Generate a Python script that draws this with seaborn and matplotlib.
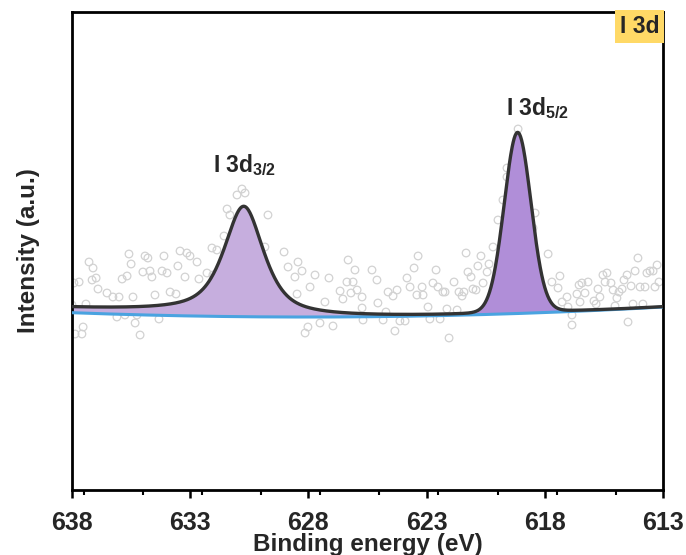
import numpy as np
import pandas as pd
import matplotlib
matplotlib.use("Agg")
import matplotlib.pyplot as plt
from matplotlib.ticker import MultipleLocator, FixedLocator
import seaborn as sns

sns.set_theme(style="white")
plt.rcParams['font.family'] = ['Liberation Sans', 'DejaVu Sans']
plt.rcParams['font.weight'] = 'bold'
plt.rcParams['mathtext.fontset'] = 'custom'
plt.rcParams['mathtext.rm'] = 'Liberation Sans:bold'
plt.rcParams['mathtext.bf'] = 'Liberation Sans:bold'
plt.rcParams['mathtext.it'] = 'Liberation Sans:bold'

# ---- raw spectrum (binding energy eV, intensity a.u.) ----
raw_energy = [
    638.00, 637.92, 637.87, 637.70, 637.58, 637.53, 637.41, 637.28, 637.15, 637.11,
    636.98, 636.90, 636.52, 636.27, 636.10, 636.01, 635.88, 635.76, 635.67, 635.59,
    635.50, 635.42, 635.33, 635.25, 635.12, 635.00, 634.91, 634.79, 634.70, 634.62,
    634.49, 634.32, 634.19, 634.11, 633.98, 633.85, 633.60, 633.52, 633.43, 633.22,
    633.14, 633.01, 632.71, 632.63, 632.29, 632.08, 631.87, 632.04, 631.57, 631.44,
    631.32, 631.02, 630.81, 630.68, 629.84, 629.71, 629.03, 628.86, 628.57, 628.48,
    628.44, 628.27, 628.14, 628.02, 627.93, 627.72, 627.51, 627.30, 627.13, 626.96,
    626.66, 626.54, 626.37, 626.32, 626.20, 626.11, 626.03, 625.94, 625.73, 625.73,
    625.69, 625.31, 625.10, 625.06, 624.84, 624.72, 624.63, 624.42, 624.34, 624.25,
    624.13, 623.91, 623.83, 623.70, 623.53, 623.41, 623.36, 623.19, 623.15, 622.94,
    622.86, 622.73, 622.60, 622.52, 622.43, 622.31, 622.22, 622.14, 622.05, 621.84,
    621.71, 621.63, 621.50, 621.42, 621.33, 621.25, 621.12, 621.04, 620.91, 620.83,
    620.70, 620.61, 620.44, 620.36, 620.19, 619.98, 619.77, 619.60, 619.60, 619.13,
    618.50, 618.41, 617.86, 617.70, 617.44, 617.36, 617.27, 617.06, 617.02, 616.85,
    616.85, 616.64, 616.55, 616.51, 616.43, 616.30, 616.17, 615.92, 615.83, 615.75,
    615.67, 615.54, 615.45, 615.37, 615.20, 615.11, 615.03, 614.95, 614.86, 614.73,
    614.65, 614.52, 614.48, 614.35, 614.27, 614.18, 614.06, 613.97, 613.85, 613.76,
    613.68, 613.55, 613.42, 613.34, 613.25, 613.17,
]
raw_intensity = [
    185, 207, 156, 208, 156, 163, 186, 228, 210, 222,
    212, 201, 197, 193, 173, 193, 211, 175, 214, 236,
    226, 193, 167, 175, 155, 218, 234, 232, 219, 213,
    195, 171, 219, 234, 217, 198, 196, 224, 239, 213,
    237, 234, 228, 211, 217, 242, 240, 215, 254, 281,
    275, 295, 301, 297, 243, 275, 238, 223, 213, 196,
    228, 219, 157, 163, 203, 215, 167, 188, 212, 164,
    199, 191, 208, 230, 197, 208, 220, 200, 193, 182,
    170, 220, 210, 187, 170, 178, 198, 194, 159, 200,
    169, 169, 212, 203, 222, 195, 234, 203, 195, 183,
    171, 207, 220, 203, 171, 198, 198, 181, 152, 208,
    180, 198, 194, 198, 237, 218, 213, 201, 200, 224,
    234, 207, 218, 226, 243, 270, 290, 313, 322, 361,
    262, 277, 236, 208, 202, 214, 188, 193, 183, 175,
    165, 196, 205, 188, 207, 197, 208, 189, 186, 201,
    193, 215, 208, 217, 207, 200, 184, 192, 198, 201,
    210, 215, 168, 204, 186, 219, 232, 203, 186, 203,
    217, 219, 219, 203, 225, 208,
]

# ---- fitted background anchors ----
bg_energy = [638.0, 625.4, 613.0]
bg_level = [177.3, 173.3, 183.0]

# ---- fitted peaks ----
peak_names = ["I 3d$_{3/2}$", "I 3d$_{5/2}$"]
peak_center = [630.72, 619.15]
peak_height = [108.0, 180.5]
peak_fwhm = [2.0, 1.34]
peak_eta = [0.7, 0.05]
peak_step = [4.8, 0.0]
peak_fill = ["#C6AEDE", "#B08ED8"]

x_major = [638, 633, 628, 623, 618, 613]


def pseudo_voigt(e, c, h, w, eta):
    d = e - c
    g = np.exp(-4 * np.log(2) * d ** 2 / w ** 2)
    lor = 1.0 / (1.0 + 4 * d ** 2 / w ** 2)
    return h * (eta * lor + (1 - eta) * g)


E = np.linspace(638, 613, 1200)
bg_coef = np.polyfit(bg_energy, bg_level, 2)
baseline = np.polyval(bg_coef, E)
components = []
for c, h, w, eta, s in zip(peak_center, peak_height, peak_fwhm, peak_eta, peak_step):
    comp = pseudo_voigt(E, c, h, w, eta) + s * (np.arctan((E - c) / 0.5) / np.pi + 0.5)
    components.append(comp)
envelope = baseline + np.sum(components, axis=0)

raw = pd.DataFrame({"energy": raw_energy, "intensity": raw_intensity})
fit = pd.DataFrame({"energy": E, "baseline": baseline, "envelope": envelope})

fig = plt.figure(figsize=(6.86, 5.55), dpi=100)
ax = fig.add_axes([72 / 686, 65 / 555, 591 / 686, 478 / 555])

sns.scatterplot(data=raw, x="energy", y="intensity", ax=ax, marker="o",
                facecolor="none", edgecolor="#D2D2D2", s=30, linewidth=0.9,
                zorder=1, legend=False)
for comp, col in zip(components, peak_fill):
    ax.fill_between(E, baseline, baseline + comp, color=col, lw=0, zorder=2)
sns.lineplot(data=fit, x="energy", y="baseline", ax=ax, color="#4AA3E0",
             lw=2.2, zorder=3, sort=False)
sns.lineplot(data=fit, x="energy", y="envelope", ax=ax, color="#333333",
             lw=2.4, zorder=4, sort=False)

ax.set_xlim(638, 613)
ax.set_ylim(0, 478)
ax.xaxis.set_major_locator(FixedLocator(x_major))
ax.xaxis.set_minor_locator(MultipleLocator(2.5))
ax.set_xticks(x_major)
ax.set_xticklabels([str(v) for v in x_major], fontsize=18, fontweight="bold")
ax.set_yticks([])
ax.tick_params(axis="x", which="major", direction="out", length=6, width=1.8,
               bottom=True, pad=9, color="black")
ax.tick_params(axis="x", which="minor", direction="out", length=3.5, width=1.5,
               bottom=True, color="black")
for sp in ax.spines.values():
    sp.set_visible(True)
    sp.set_color("black")
    sp.set_linewidth(2.0)

ax.set_xlabel("Binding energy (eV)", fontsize=17.5, fontweight="bold", labelpad=-1)
ax.set_ylabel("Intensity (a.u.)", fontsize=17.5, fontweight="bold", labelpad=23)

ax.text(630.68, 325, peak_names[0], fontsize=16.5, fontweight="bold",
        ha="center", va="center", zorder=5)
ax.text(618.29, 382, peak_names[1], fontsize=16.5, fontweight="bold",
        ha="center", va="center", zorder=5)
ax.text(0.994, 0.993, "I 3d", transform=ax.transAxes, fontsize=16.5,
        fontweight="bold", ha="right", va="top", zorder=6,
        bbox=dict(boxstyle="square,pad=0.22", fc="#FFD966", ec="none"))

fig.savefig("out.png", dpi=100)
